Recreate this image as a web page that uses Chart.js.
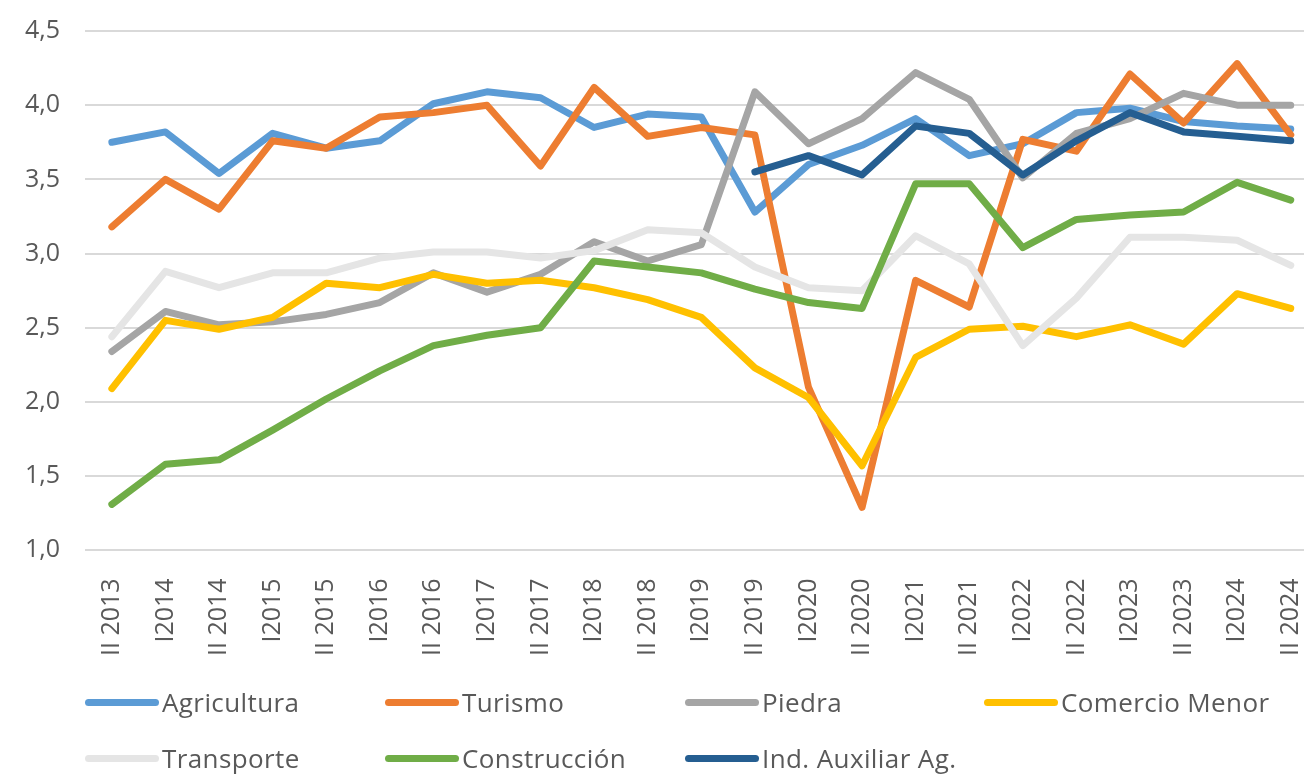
<!DOCTYPE html>
<html>
<head>
<meta charset="utf-8">
<script src="https://cdn.jsdelivr.net/npm/chart.js@4.4.1/dist/chart.umd.min.js"></script>
<style>
    html, body { margin: 0; padding: 0; background: #fff; width: 1304px; height: 776px; overflow: hidden; }
    #wrap { position: absolute; left: 0; top: -9px; width: 1341px; height: 685px; }
    #legend { position: absolute; left: 0; top: 0; width: 1304px; height: 776px; pointer-events: none; }
    .item { position: absolute; display: flex; align-items: center; height: 36px; font-family: 'Open Sans', sans-serif; font-size: 26px; letter-spacing: 0.4px; color: #595959; white-space: nowrap; }
    .swatch { width: 74px; height: 7px; border-radius: 4px; margin-right: 3px; }
</style>
</head>
<body>
<div id="wrap"><canvas id="lineChart" width="1341" height="685"></canvas></div>
<div id="legend"></div>
<script>
const labels = ['II 2013', 'I2014', 'II 2014', 'I2015', 'II 2015', 'I2016', 'II 2016', 'I2017', 'II 2017', 'I2018', 'II 2018', 'I2019',
    'II 2019', 'I2020', 'II 2020', 'I2021', 'II 2021', 'I2022', 'II 2022', 'I2023', 'II 2023', 'I2024', 'II 2024'];

const agricultura  = [3.75, 3.82, 3.54, 3.81, 3.71, 3.76, 4.01, 4.09, 4.05, 3.85, 3.94, 3.92, 3.28, 3.60, 3.73, 3.91, 3.66, 3.74, 3.95, 3.98, 3.89, 3.86, 3.84];
const turismo      = [3.18, 3.50, 3.30, 3.76, 3.71, 3.92, 3.95, 4.00, 3.59, 4.12, 3.79, 3.85, 3.80, 2.10, 1.29, 2.82, 2.64, 3.77, 3.69, 4.21, 3.88, 4.28, 3.80];
const piedra       = [2.34, 2.61, 2.52, 2.54, 2.59, 2.67, 2.87, 2.74, 2.86, 3.08, 2.95, 3.06, 4.09, 3.74, 3.91, 4.22, 4.04, 3.51, 3.81, 3.91, 4.08, 4.00, 4.00];
const comercio     = [2.09, 2.55, 2.49, 2.57, 2.80, 2.77, 2.86, 2.80, 2.82, 2.77, 2.69, 2.57, 2.23, 2.03, 1.57, 2.30, 2.49, 2.51, 2.44, 2.52, 2.39, 2.73, 2.63];
const transporte   = [2.44, 2.88, 2.77, 2.87, 2.87, 2.97, 3.01, 3.01, 2.97, 3.02, 3.16, 3.14, 2.91, 2.77, 2.75, 3.12, 2.93, 2.38, 2.70, 3.11, 3.11, 3.09, 2.92];
const construccion = [1.31, 1.58, 1.61, 1.81, 2.02, 2.21, 2.38, 2.45, 2.50, 2.95, 2.91, 2.87, 2.76, 2.67, 2.63, 3.47, 3.47, 3.04, 3.23, 3.26, 3.28, 3.48, 3.36];
const indAuxiliar  = [null, null, null, null, null, null, null, null, null, null, null, null, 3.55, 3.66, 3.53, 3.86, 3.81, 3.53, 3.76, 3.95, 3.82, 3.79, 3.76];

const seriesNames  = ['Agricultura', 'Turismo', 'Piedra', 'Comercio Menor', 'Transporte', 'Construcción', 'Ind. Auxiliar Ag.'];
const seriesValues = [agricultura, turismo, piedra, comercio, transporte, construccion, indAuxiliar];
const seriesColors = ['#5b9bd5', '#ed7d31', '#a5a5a5', '#ffc000', '#e5e5e5', '#70ad47', '#255e91'];

const yTicks = { min: 1, max: 4.5, step: 0.5 };

// Excel draws later series on top, chart.js draws lowest "order" last
const datasets = seriesNames.map((name, i) => ({
    label: name,
    data: seriesValues[i],
    borderColor: seriesColors[i],
    backgroundColor: seriesColors[i],
    borderWidth: 7,
    pointRadius: 0,
    tension: 0,
    fill: false,
    spanGaps: false,
    borderJoinStyle: 'round',
    borderCapStyle: 'round',
    order: seriesNames.length - i
}));

const ctx = document.getElementById('lineChart').getContext('2d');
const chart = new Chart(ctx, {
    type: 'line',
    data: { labels: labels, datasets: datasets },
    options: {
        responsive: false,
        animation: false,
        layout: { padding: { left: 0, right: 12, top: 1, bottom: 0 } },
        scales: {
            x: {
                offset: true,
                grid: { display: false },
                border: { display: false },
                ticks: {
                    color: '#595959',
                    font: { family: 'Open Sans', size: 25 },
                    minRotation: 90,
                    maxRotation: 90,
                    autoSkip: false,
                    padding: 20
                }
            },
            y: {
                min: yTicks.min,
                max: yTicks.max,
                grid: { color: '#d9d9d9', lineWidth: 2, drawTicks: false },
                border: { display: false },
                ticks: {
                    stepSize: yTicks.step,
                    color: '#595959',
                    font: { family: 'Open Sans', size: 25 },
                    padding: 25,
                    callback: v => v.toFixed(1).replace('.', ',')
                }
            }
        },
        plugins: {
            legend: { display: false },
            tooltip: { enabled: false }
        }
    }
});

// Legend laid out in fixed columns like the original
const legendCols = [85, 385, 685, 984];
const legendRows = [702, 758];
const legend = document.getElementById('legend');
seriesNames.forEach((name, i) => {
    const item = document.createElement('div');
    item.className = 'item';
    item.style.left = legendCols[i % 4] + 'px';
    item.style.top = (legendRows[Math.floor(i / 4)] - 18) + 'px';
    const sw = document.createElement('span');
    sw.className = 'swatch';
    sw.style.backgroundColor = seriesColors[i];
    const txt = document.createElement('span');
    txt.textContent = name;
    item.appendChild(sw);
    item.appendChild(txt);
    legend.appendChild(item);
});
</script>
</body>
</html>
